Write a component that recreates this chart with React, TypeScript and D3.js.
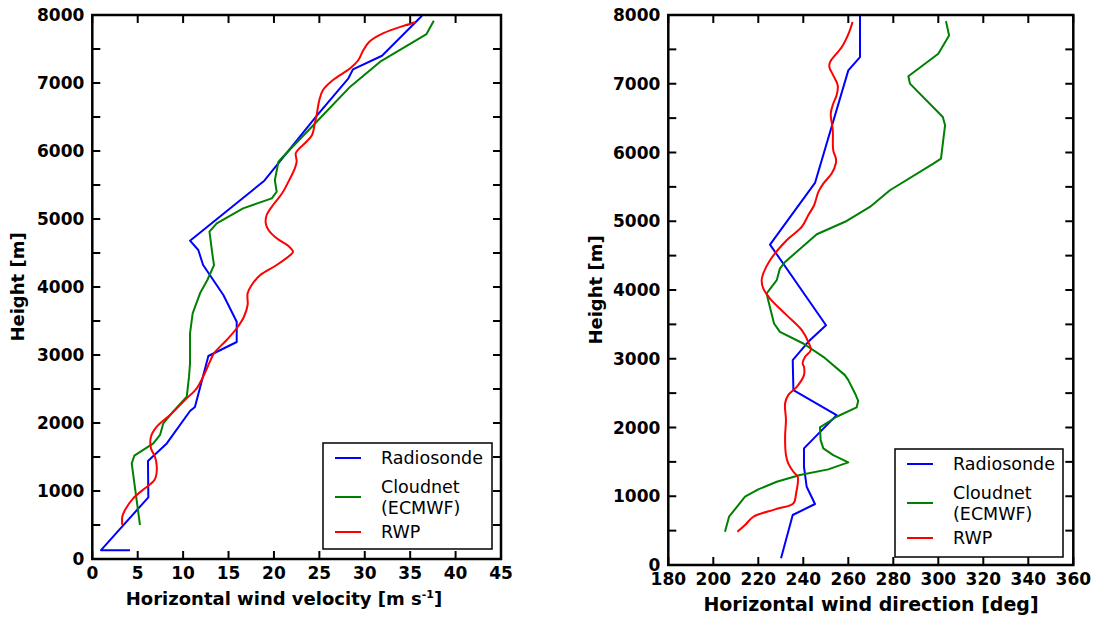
import React from "react";
import * as d3 from "d3";

// ---------- data ----------
// Left panel: horizontal wind velocity [m s-1] vs height [m]
const radiosondeVel: [number, number][] = [
  [4.15, 130], [0.96, 130], [6.17, 907], [6.13, 1441], [8.2, 1700], [10.76, 2176], [11.3, 2235],
  [12.78, 2985], [15.9, 3191], [15.9, 3490], [14.43, 3882], [12.2, 4323], [11.67, 4544],
  [10.76, 4681], [18.94, 5563], [24.7, 6515], [28.2, 7069], [28.7, 7201], [31.9, 7401], [36.3, 7990],
];
const cloudnetVel: [number, number][] = [
  [5.25, 500], [4.34, 1407], [4.63, 1519], [6.72, 1701], [7.46, 1824], [7.82, 1996], [8.74, 2143],
  [10.4, 2387], [10.65, 2681], [10.76, 2878], [10.76, 3319], [11.05, 3613], [11.86, 3907],
  [12.67, 4103], [13.4, 4323], [13.26, 4446], [12.9, 4813], [13.7, 4937], [16.6, 5157],
  [19.76, 5304], [20.3, 5401], [20.1, 5573], [20.5, 5843], [21.0, 5916], [24.7, 6431],
  [28.4, 6946], [31.7, 7313], [36.8, 7720], [37.6, 7916],
];
const rwpVel: [number, number][] = [
  [3.3, 500], [3.3, 622], [3.6, 720], [4.5, 892], [5.8, 1040], [6.7, 1137], [7.0, 1210],
  [7.1, 1357], [6.9, 1504], [6.46, 1628], [6.46, 1799], [7.1, 1946], [8.56, 2118], [10.2, 2338],
  [11.5, 2510], [12.2, 2681], [12.9, 2887], [13.4, 3025], [14.8, 3221], [15.9, 3393],
  [16.7, 3563], [17.1, 3735], [17.1, 3907], [17.55, 4029], [18.5, 4176], [20.3, 4323],
  [21.8, 4470], [22.1, 4519], [21.6, 4603], [20.3, 4716], [19.4, 4838], [19.1, 4937],
  [19.2, 5059], [19.9, 5206], [20.9, 5378], [21.6, 5549], [22.3, 5745], [22.5, 5843],
  [22.4, 5966], [22.7, 6025], [23.4, 6113], [24.2, 6235], [24.5, 6407], [24.7, 6529],
  [25.0, 6750], [25.4, 6897], [26.5, 7044], [28.4, 7216], [29.3, 7338], [29.85, 7485],
  [30.5, 7607], [32.0, 7730], [35.5, 7893], [34.6, 7850],
];

// Right panel: horizontal wind direction [deg] vs height [m]
const radiosondeDir: [number, number][] = [
  [230.1, 97], [235.3, 727], [245.2, 887], [241.5, 1138], [240.3, 1429], [240.3, 1696],
  [254.8, 2180], [235.6, 2544], [235.3, 2980], [242.2, 3246], [250.1, 3488], [225.2, 4661],
  [245.2, 5557], [260.0, 7195], [265.2, 7388], [265.2, 8000],
];
const cloudnetDir: [number, number][] = [
  [205.2, 484], [207.0, 702], [214.1, 993], [220.0, 1100], [228.2, 1211], [238.5, 1308],
  [251.1, 1391], [260.0, 1493], [253.3, 1599], [248.9, 1696], [247.7, 1817], [247.4, 2001],
  [254.8, 2156], [263.7, 2292], [264.4, 2388], [263.0, 2495], [260.0, 2689], [258.5, 2762],
  [248.9, 3028], [240.0, 3222], [229.6, 3391], [227.0, 3513], [224.4, 3852], [223.7, 3949],
  [226.0, 4050], [228.2, 4142], [229.6, 4312], [231.9, 4408], [246.0, 4811], [259.3, 5004],
  [269.6, 5208], [278.5, 5451], [297.8, 5839], [301.2, 5911], [303.0, 6395], [302.0, 6516],
  [287.4, 7002], [286.7, 7108], [300.0, 7437], [304.8, 7703], [303.4, 7911],
];
const rwpDir: [number, number][] = [
  [210.7, 484], [214.1, 581], [217.8, 702], [227.4, 809], [235.6, 897], [236.8, 1042],
  [237.5, 1283], [235.6, 1356], [233.3, 1478], [232.3, 1599], [231.9, 1865], [232.3, 2108],
  [231.9, 2350], [233.3, 2471], [237.1, 2592], [240.3, 2762], [240.3, 2883], [239.7, 2932],
  [240.8, 3028], [243.3, 3125], [242.2, 3246], [239.3, 3416], [232.6, 3634], [225.2, 3876],
  [222.2, 4022], [221.5, 4142], [222.2, 4240], [225.2, 4433], [232.6, 4724], [239.3, 4917],
  [242.2, 5087], [244.8, 5233], [246.7, 5426], [248.9, 5548], [252.6, 5693], [254.5, 5848],
  [254.5, 5911], [253.3, 6032], [253.1, 6323], [252.2, 6565], [253.3, 6710], [254.8, 6831],
  [255.3, 6977], [253.3, 7122], [251.6, 7243], [251.9, 7316], [257.1, 7534], [260.4, 7752],
  [261.9, 7897],
];

const velTicks = [0, 5, 10, 15, 20, 25, 30, 35, 40, 45];
const dirTicks = [180, 200, 220, 240, 260, 280, 300, 320, 340, 360];
const heightTicks = [0, 1000, 2000, 3000, 4000, 5000, 6000, 7000, 8000];
const heightMinorTicks = d3.range(0, 8001, 500);
const seriesNames = ["Radiosonde", "Cloudnet\n(ECMWF)", "RWP"];
const seriesColors = ["#0000ff", "#008000", "#ff0000"];

const FONT = "'DejaVu Sans', Verdana, sans-serif";

type Panel = {
  x0: number; x1: number; y0: number; y1: number;
  domain: [number, number];
  xTicks: number[];
  series: [number, number][][];
  smooth: boolean[];
  xLabel: React.ReactNode;
  xLabelX: number;
  xLabelSize: number;
  yLabelX: number;
  tickLabelDy: number;
  legend: { x: number; y: number; w: number; h: number };
};

function PanelView({ p }: { p: Panel }) {
  const x = d3.scaleLinear().domain(p.domain).range([p.x0, p.x1]);
  const y = d3.scaleLinear().domain([0, 8000]).range([p.y1, p.y0]);
  const tl = 8;
  const lineLin = d3.line<[number, number]>().x((d) => x(d[0])).y((d) => y(d[1]));
  const lineSm = d3
    .line<[number, number]>()
    .x((d) => x(d[0]))
    .y((d) => y(d[1]))
    .curve(d3.curveCatmullRom.alpha(0.5));
  const L = p.legend;
  return (
    <g>
      {p.series.map((s, i) => (
        <path
          key={i}
          d={(p.smooth[i] ? lineSm : lineLin)(s) || ""}
          fill="none"
          stroke={seriesColors[i]}
          strokeWidth={2}
          strokeLinejoin="round"
        />
      ))}
      {/* ticks */}
      {p.xTicks.map((t) => (
        <g key={"xt" + t}>
          <line x1={x(t)} x2={x(t)} y1={p.y1} y2={p.y1 - tl} stroke="#000" strokeWidth={2} />
          <line x1={x(t)} x2={x(t)} y1={p.y0} y2={p.y0 + tl} stroke="#000" strokeWidth={2} />
          <text
            x={x(t)}
            y={p.y1 + p.tickLabelDy}
            textAnchor="middle"
            fontFamily={FONT}
            fontWeight="bold"
            fontSize={17}
          >
            {t}
          </text>
        </g>
      ))}
      {heightMinorTicks.map((t) => (
        <g key={"yt" + t}>
          <line x1={p.x0} x2={p.x0 + tl} y1={y(t)} y2={y(t)} stroke="#000" strokeWidth={2} />
          <line x1={p.x1} x2={p.x1 - tl} y1={y(t)} y2={y(t)} stroke="#000" strokeWidth={2} />
        </g>
      ))}
      {heightTicks.map((t) => (
        <text
          key={"yl" + t}
          x={p.x0 - 8}
          y={y(t) + 6}
          textAnchor="end"
          fontFamily={FONT}
          fontWeight="bold"
          fontSize={17}
        >
          {t}
        </text>
      ))}
      {/* frame */}
      <rect
        x={p.x0}
        y={p.y0}
        width={p.x1 - p.x0}
        height={p.y1 - p.y0}
        fill="none"
        stroke="#000"
        strokeWidth={2.5}
      />
      {/* axis labels */}
      <text
        x={p.xLabelX}
        y={p.y1 + 46}
        textAnchor="middle"
        fontFamily={FONT}
        fontWeight="bold"
        fontSize={p.xLabelSize}
      >
        {p.xLabel}
      </text>
      <text
        transform={`translate(${p.yLabelX},${(p.y0 + p.y1) / 2}) rotate(-90)`}
        textAnchor="middle"
        fontFamily={FONT}
        fontWeight="bold"
        fontSize={18}
      >
        Height [m]
      </text>
      {/* legend */}
      <rect x={L.x} y={L.y} width={L.w} height={L.h} fill="#fff" stroke="#000" strokeWidth={1.5} />
      {seriesNames.map((name, i) => {
        const cy = [L.y + 15, L.y + 54, L.y + 89][i];
        const lines = name.split("\n");
        return (
          <g key={name}>
            <line
              x1={L.x + 12}
              x2={L.x + 38}
              y1={cy}
              y2={cy}
              stroke={seriesColors[i]}
              strokeWidth={2}
            />
            {lines.map((ln, j) => (
              <text
                key={j}
                x={L.x + 58}
                y={cy + 6 + (j - (lines.length - 1) / 2) * 21}
                fontFamily={FONT}
                fontSize={17.5}
              >
                {ln}
              </text>
            ))}
          </g>
        );
      })}
    </g>
  );
}

export default function App() {
  const left: Panel = {
    x0: 92.3, x1: 501, y0: 15, y1: 559,
    domain: [0, 45],
    xTicks: velTicks,
    series: [radiosondeVel, cloudnetVel, rwpVel],
    smooth: [false, false, true],
    xLabel: (
      <>
        Horizontal wind velocity [m s
        <tspan dy={-7} fontSize={11}>-1</tspan>
        <tspan dy={7}>]</tspan>
      </>
    ),
    xLabelX: 284,
    xLabelSize: 18,
    yLabelX: 24,
    tickLabelDy: 20,
    legend: { x: 323, y: 443, w: 169, h: 106 },
  };
  const right: Panel = {
    x0: 668.3, x1: 1073.3, y0: 15, y1: 565,
    domain: [180, 360],
    xTicks: dirTicks,
    series: [radiosondeDir, cloudnetDir, rwpDir],
    smooth: [false, false, true],
    xLabel: "Horizontal wind direction [deg]",
    xLabelX: 871,
    xLabelSize: 19,
    yLabelX: 602,
    tickLabelDy: 20,
    legend: { x: 895, y: 449, w: 168, h: 108 },
  };
  return (
    <svg width={1100} height={619} style={{ display: "block", position: "absolute", left: 0, top: 0 }}>
      <rect width={1100} height={619} fill="#fff" />
      <PanelView p={left} />
      <PanelView p={right} />
    </svg>
  );
}
